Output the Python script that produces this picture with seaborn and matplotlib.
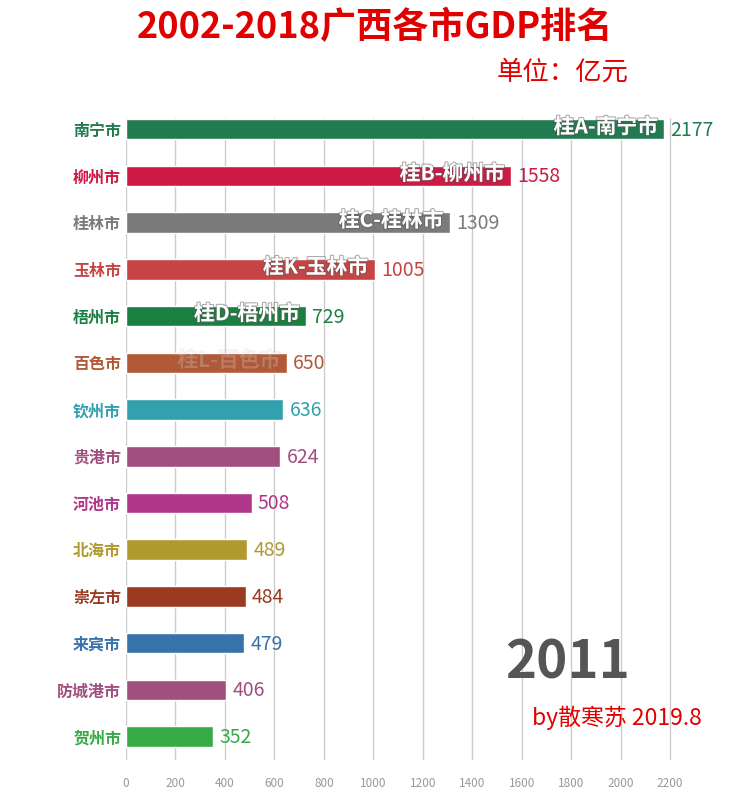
import numpy as np
import pandas as pd
import matplotlib.pyplot as plt
import matplotlib.patheffects as pe
import seaborn as sns

cities = ['南宁市', '柳州市', '桂林市', '玉林市', '梧州市', '百色市', '钦州市',
          '贵港市', '河池市', '北海市', '崇左市', '来宾市', '防城港市', '贺州市']
gdp = [2177, 1558, 1309, 1005, 729, 650, 636, 624, 508, 489, 484, 479, 406, 352]
colors = ['#217B50', '#CC1A44', '#7A7A7A', '#C84444', '#1A8040', '#B25A38', '#32A0AE',
          '#A04F7E', '#B0368A', '#B09A30', '#9A3A20', '#3872AA', '#A04F7E', '#36AA44']
plates = ['桂A-南宁市', '桂B-柳州市', '桂C-桂林市', '桂K-玉林市', '桂D-梧州市', '桂L-百色市']
plate_alpha = [1, 1, 1, 1, 1, 0.15]
xticks = [0, 200, 400, 600, 800, 1000, 1200, 1400, 1600, 1800, 2000, 2200]
year = '2011'

df = pd.DataFrame({'city': cities, 'gdp': gdp})
pal = dict(zip(cities, colors))

sns.set_style('white')
plt.rcParams['font.family'] = ['Noto Sans CJK SC', 'DejaVu Sans']

fig = plt.figure(figsize=(7.44, 8.06), dpi=100)
ax = fig.add_axes([126/744, 1-760/806, 1-126/744-12/744, (760-118)/806])

sns.barplot(data=df, x='gdp', y='city', hue='city', palette=pal, legend=False,
            width=0.44, saturation=1, ax=ax, zorder=3)

ax.set_xlim(0, 2450)
ax.set_ylim(13.5, -0.24)
ax.set_xticks(xticks)
ax.set_xticklabels([str(t) for t in xticks], color='#999999', fontsize=8.5)
ax.grid(axis='x', color='#cccccc', linewidth=1, zorder=0)
ax.set_axisbelow(True)
for s in ax.spines.values():
    s.set_visible(False)
ax.tick_params(axis='both', length=0)
ax.tick_params(axis='x', pad=12)
ax.set_xlabel('')
ax.set_ylabel('')
for lab, c in zip(ax.get_yticklabels(), colors):
    lab.set_color(c)
    lab.set_fontsize(11.5)
    lab.set_fontweight('bold')

for i, (v, c) in enumerate(zip(gdp, colors)):
    ax.text(v + 25, i + 0.02, str(v), color=c, fontsize=14, va='center', ha='left')

for i, (p, a) in enumerate(zip(plates, plate_alpha)):
    ax.text(gdp[i] - 25, i - 0.05, p, color='white', fontsize=15, fontweight='bold',
            va='center', ha='right', alpha=a, zorder=5,
            path_effects=[pe.withStroke(linewidth=1.5, foreground='#555555', alpha=0.5 * a)])

fig.text(375/744, 1-28/806, '2002-2018广西各市GDP排名', color='#E00000', fontsize=26,
         fontweight='bold', ha='center', va='center')
fig.text(563/744, 1-72/806, '单位：亿元', color='#E00000', fontsize=19,
         ha='center', va='center')
fig.text(568/744, 1-663/806, year, color='#555555', fontsize=38,
         fontweight='bold', ha='center', va='center')
fig.text(617/744, 1-718/806, 'by散寒苏 2019.8', color='#E00000', fontsize=16.5,
         ha='center', va='center')

fig.savefig('out.png', dpi=100)
